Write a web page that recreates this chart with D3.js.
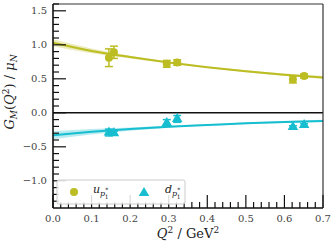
<!DOCTYPE html>
<html><head><meta charset="utf-8">
<script src="https://cdn.jsdelivr.net/npm/d3@7"></script>
<style>body{margin:0;background:#fff}svg{display:block}</style>
</head><body><svg id="c" width="335" height="251"></svg>
<script>
// Data
const uQ2 = [0.145, 0.158, 0.295, 0.322, 0.622, 0.651];
const uVal = [0.81, 0.89, 0.72, 0.74, 0.49, 0.54];
const uErr = [0.13, 0.09, 0.05, 0.04, 0.05, 0.03];
const dQ2 = [0.145, 0.158, 0.295, 0.322, 0.622, 0.651];
const dVal = [-0.29, -0.30, -0.15, -0.09, -0.21, -0.18];
const dErr = [0.05, 0.03, 0.05, 0.05, 0.02, 0.02];
const fitQ2 = [0, 0.1, 0.2, 0.3, 0.4, 0.5, 0.6, 0.7];
const uFit = [1.03, 0.91, 0.82, 0.74, 0.67, 0.61, 0.56, 0.52];
const uBand = [0.05, 0.035, 0.02, 0.012, 0.012, 0.015, 0.018, 0.02];
const dFit = [-0.33, -0.28, -0.24, -0.205, -0.18, -0.155, -0.135, -0.12];
const dBand = [0.06, 0.04, 0.025, 0.015, 0.012, 0.012, 0.014, 0.016];
const xTicks = [0, 0.1, 0.2, 0.3, 0.4, 0.5, 0.6, 0.7];
const yTicks = [-1.0, -0.5, 0.0, 0.5, 1.0, 1.5];

const cu = "#bcbd22", cd = "#17becf";
const L = 53, R = 323, T = 4, B = 208;
const x = d3.scaleLinear().domain([0, 0.7]).range([L, R]);
const y = d3.scaleLinear().domain([-1.4, 1.6]).range([B, T]);
const svg = d3.select("#c");
const font = "DejaVu Serif";

// bands and lines
function drawFit(fit, band, col) {
  const data = fitQ2.map((q, i) => ({q, v: fit[i], e: band[i]}));
  svg.append("path").datum(data)
    .attr("d", d3.area().x(d => x(d.q)).y0(d => y(d.v - d.e)).y1(d => y(d.v + d.e)).curve(d3.curveMonotoneX))
    .attr("fill", col).attr("opacity", 0.3);
  svg.append("path").datum(data)
    .attr("d", d3.line().x(d => x(d.q)).y(d => y(d.v)).curve(d3.curveMonotoneX))
    .attr("fill", "none").attr("stroke", col).attr("stroke-width", 2);
}
drawFit(uFit, uBand, cu);
drawFit(dFit, dBand, cd);

// zero line
svg.append("line").attr("x1", L).attr("x2", R).attr("y1", y(0)).attr("y2", y(0))
  .attr("stroke", "#111").attr("stroke-width", 1.5);

// error bars + markers
function drawPts(qs, vs, es, col, shape) {
  const g = svg.append("g");
  qs.forEach((q, i) => {
    const px = x(q), y1 = y(vs[i] + es[i]), y2 = y(vs[i] - es[i]);
    g.append("line").attr("x1", px).attr("x2", px).attr("y1", y1).attr("y2", y2).attr("stroke", col).attr("stroke-width", 1.5);
    [y1, y2].forEach(yy => g.append("line").attr("x1", px - 4).attr("x2", px + 4).attr("y1", yy).attr("y2", yy).attr("stroke", col).attr("stroke-width", 1.5));
    if (shape === "c") g.append("circle").attr("cx", px).attr("cy", y(vs[i])).attr("r", 4).attr("fill", col);
    else g.append("path").attr("d", d3.symbol(d3.symbolTriangle, 48)()).attr("transform", `translate(${px},${y(vs[i])})`).attr("fill", col);
  });
}
drawPts(uQ2, uVal, uErr, cu, "c");
drawPts(dQ2, dVal, dErr, cd, "t");

// frame
svg.append("line").attr("x1", L).attr("x2", R).attr("y1", T).attr("y2", T).attr("stroke", "#333").attr("stroke-width", 1.2);
svg.append("line").attr("x1", R).attr("x2", R).attr("y1", T).attr("y2", B).attr("stroke", "#333").attr("stroke-width", 1.2);

// axes with inward ticks
const yMinor = d3.range(-1.3, 1.6001, 0.1).filter(v => Math.abs(Math.round(v * 2) - v * 2) > 1e-6);
const xMinor = d3.range(0, 0.7001, 0.02).filter(v => Math.abs(Math.round(v * 10) - v * 10) > 1e-6);
const ga = svg.append("g").attr("stroke", "#111").attr("stroke-width", 1.2);
yMinor.forEach(v => ga.append("line").attr("x1", L).attr("x2", L + 6).attr("y1", y(v)).attr("y2", y(v)));
yTicks.forEach(v => ga.append("line").attr("x1", L).attr("x2", L + 13).attr("y1", y(v)).attr("y2", y(v)));
xMinor.forEach(v => ga.append("line").attr("x1", x(v)).attr("x2", x(v)).attr("y1", B).attr("y2", B - 6));
xTicks.forEach(v => ga.append("line").attr("x1", x(v)).attr("x2", x(v)).attr("y1", B).attr("y2", B - 13));
svg.append("line").attr("x1", L).attr("x2", L).attr("y1", T).attr("y2", B).attr("stroke", "#111").attr("stroke-width", 1.6);
svg.append("line").attr("x1", L).attr("x2", R).attr("y1", B).attr("y2", B).attr("stroke", "#111").attr("stroke-width", 1.6);

// tick labels
const fmt = d3.format(".1f");
yTicks.forEach(v => svg.append("text").attr("x", L - 6).attr("y", y(v)).attr("dy", "0.35em")
  .attr("text-anchor", "end").attr("font-family", font).attr("font-size", 10).attr("fill", "#444")
  .text(fmt(v).replace("-", "\u2212")));
xTicks.forEach(v => svg.append("text").attr("x", x(v)).attr("y", B + 14).attr("text-anchor", "middle")
  .attr("font-family", font).attr("font-size", 10).attr("fill", "#444").text(fmt(v)));

// axis labels
const xl = svg.append("text").attr("x", (L + R) / 2).attr("y", 238).attr("text-anchor", "middle")
  .attr("font-family", font).attr("font-size", 13).attr("fill", "#222");
xl.append("tspan").attr("font-style", "italic").text("Q");
xl.append("tspan").attr("dy", -5).attr("font-size", 9).text("2");
xl.append("tspan").attr("dy", 5).text(" / GeV");
xl.append("tspan").attr("dy", -5).attr("font-size", 9).text("2");

const yl = svg.append("text").attr("transform", `translate(14,92) rotate(-90)`).attr("text-anchor", "middle")
  .attr("font-family", font).attr("font-size", 13).attr("fill", "#222");
yl.append("tspan").attr("font-style", "italic").text("G");
yl.append("tspan").attr("dy", 3).attr("font-size", 9).attr("font-style", "italic").text("M");
yl.append("tspan").attr("dy", -3).text("(");
yl.append("tspan").attr("font-style", "italic").text("Q");
yl.append("tspan").attr("dy", -5).attr("font-size", 9).text("2");
yl.append("tspan").attr("dy", 5).text(") / ");
yl.append("tspan").attr("font-style", "italic").text("\u03bc");
yl.append("tspan").attr("dy", 3).attr("font-size", 9).attr("font-style", "italic").text("N");

// legend
const lg = svg.append("g");
lg.append("rect").attr("x", 57).attr("y", 180).attr("width", 128).attr("height", 24).attr("rx", 2)
  .attr("fill", "#fff").attr("fill-opacity", 0.85).attr("stroke", "#ccc").attr("stroke-width", 1);
lg.append("circle").attr("cx", 74).attr("cy", 192).attr("r", 4).attr("fill", cu);
lg.append("path").attr("d", d3.symbol(d3.symbolTriangle, 48)()).attr("transform", "translate(144,193)").attr("fill", cd);
function legLabel(xp, base) {
  const t = lg.append("text").attr("x", xp).attr("y", 193).attr("font-family", font).attr("font-size", 11).attr("fill", "#222");
  t.append("tspan").attr("font-style", "italic").text(base);
  t.append("tspan").attr("dy", 3).attr("font-size", 8).attr("font-style", "italic").text("p");
  t.append("tspan").attr("dy", -4).attr("font-size", 6).text("*");
  t.append("tspan").attr("dx", -3.5).attr("dy", 7).attr("font-size", 6).text("1");
}
legLabel(93, "u");
legLabel(165, "d");
</script></body></html>
